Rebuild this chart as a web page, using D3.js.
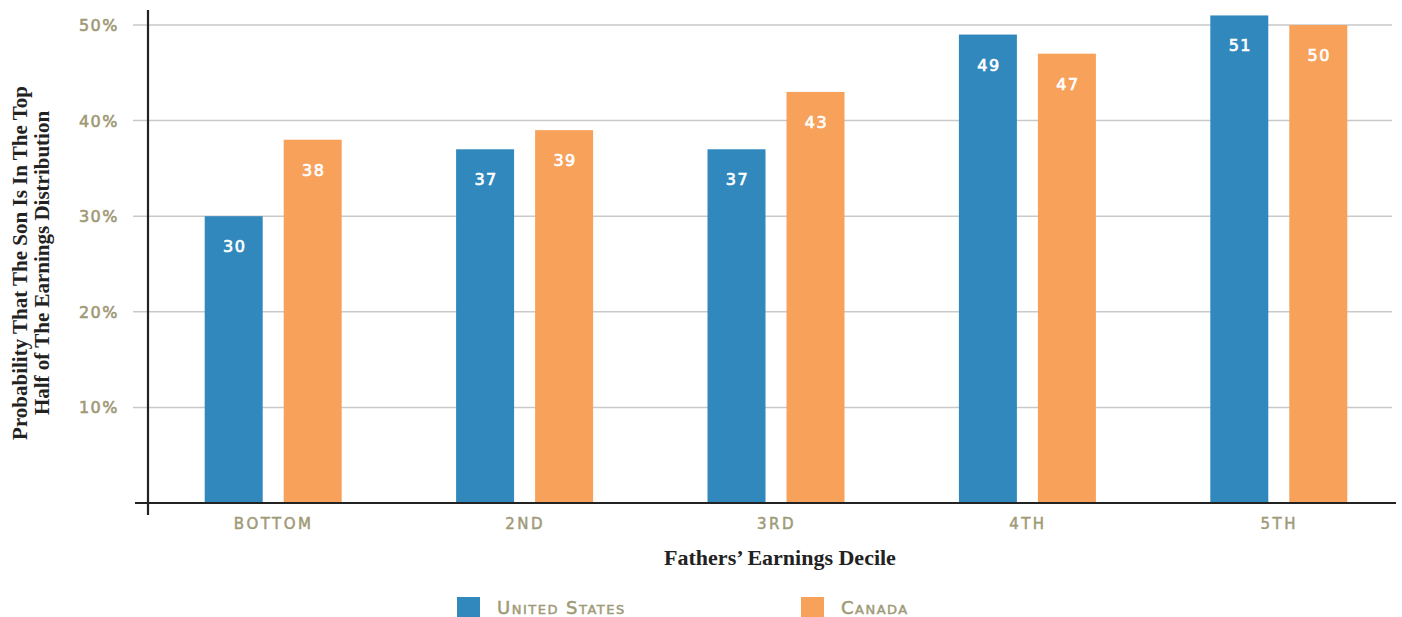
<!DOCTYPE html>
<html><head><meta charset="utf-8">
<script src="https://cdn.jsdelivr.net/npm/d3@7"></script>
<style>
body{margin:0;background:#fff;}
svg{display:block;}
</style></head>
<body><svg id="chart" width="1402" height="617"></svg>
<script>
const categories = ["BOTTOM","2ND","3RD","4TH","5TH"];
const seriesNames = ["United States","Canada"];
const usValues = [30,37,37,49,51];
const canadaValues = [38,39,43,47,50];
const yTicks = [10,20,30,40,50];
const colors = ["#3188bd","#f7a15b"];

const svg = d3.select("#chart");
const y0 = 503, yTop = 25;
const y = d3.scaleLinear().domain([0,50]).range([y0,yTop]);
const x = d3.scaleBand().domain(categories).range([147,1404]).paddingInner(0).paddingOuter(0);
const sub = d3.scaleBand().domain(seriesNames).range([-68,69]).paddingInner(0.266);

// gridlines
svg.append("g").selectAll("line").data(yTicks).join("line")
  .attr("x1",133).attr("x2",1392)
  .attr("y1",d=>y(d)).attr("y2",d=>y(d))
  .attr("stroke","#c9c9c9").attr("stroke-width",1.5);

// tick labels
svg.append("g").selectAll("text").data(yTicks).join("text")
  .attr("x",119).attr("y",d=>y(d)+6)
  .attr("text-anchor","end")
  .attr("fill","#9f9a77").attr("stroke","#9f9a77").attr("stroke-width",0.6)
  .style("font-family","DejaVu Sans").style("font-size","16px").style("letter-spacing","1.5px")
  .text(d=>d+"%");

// bars
const data = categories.map((c,i)=>({cat:c, vals:[usValues[i],canadaValues[i]]}));
const groups = svg.append("g").selectAll("g").data(data).join("g")
  .attr("transform",d=>`translate(${x(d.cat)+x.bandwidth()/2},0)`);
groups.selectAll("rect").data(d=>d.vals.map((v,j)=>({v,s:seriesNames[j],j}))).join("rect")
  .attr("x",d=>sub(d.s)).attr("width",sub.bandwidth())
  .attr("y",d=>y(d.v)).attr("height",d=>y0-y(d.v))
  .attr("fill",d=>colors[d.j]);
groups.selectAll("text").data(d=>d.vals.map((v,j)=>({v,s:seriesNames[j],j}))).join("text")
  .attr("x",d=>sub(d.s)+sub.bandwidth()/2+1).attr("y",d=>y(d.v)+36)
  .attr("text-anchor","middle").attr("fill","#fff").attr("stroke","#fff").attr("stroke-width",0.7)
  .style("font-family","DejaVu Sans").style("font-size","16px").style("letter-spacing","1.5px")
  .text(d=>d.v);

// axes lines
svg.append("line").attr("x1",148).attr("x2",148).attr("y1",10).attr("y2",515)
  .attr("stroke","#222").attr("stroke-width",2.2);
svg.append("line").attr("x1",135).attr("x2",1396).attr("y1",y0).attr("y2",y0)
  .attr("stroke","#222").attr("stroke-width",2.2);

// x tick labels
svg.append("g").selectAll("text").data(categories).join("text")
  .attr("x",d=>x(d)+x.bandwidth()/2+1).attr("y",529)
  .attr("text-anchor","middle").attr("fill","#9f9a77").attr("stroke","#9f9a77").attr("stroke-width",0.5)
  .style("font-family","DejaVu Sans").style("font-size","15px").style("letter-spacing","2.5px")
  .text(d=>d);

// axis titles
svg.append("text").attr("x",780).attr("y",565).attr("text-anchor","middle")
  .attr("fill","#222").style("font-family","Liberation Serif").style("font-weight","bold").style("font-size","22px")
  .text("Fathers’ Earnings Decile");
const yt = svg.append("text").attr("transform","translate(0,263) rotate(-90)")
  .attr("text-anchor","middle").attr("fill","#222")
  .style("font-family","Liberation Serif").style("font-weight","bold").style("font-size","21px");
yt.append("tspan").attr("x",0).attr("y",27).text("Probability That The Son Is In The Top");
yt.append("tspan").attr("x",0).attr("y",49).text("Half of The Earnings Distribution");

// legend
const legX = [457,801];
const leg = svg.append("g").selectAll("g").data(seriesNames).join("g")
  .attr("transform",(d,i)=>`translate(${legX[i]},597)`);
leg.append("rect").attr("width",23).attr("height",20).attr("fill",(d,i)=>colors[i]);
leg.append("text").attr("x",40).attr("y",17).attr("fill","#9f9a77").attr("stroke","#9f9a77").attr("stroke-width",0.5)
  .style("font-family","DejaVu Sans").style("font-size","18px").style("font-variant","small-caps").style("letter-spacing","1.5px")
  .text(d=>d);
</script></body></html>
